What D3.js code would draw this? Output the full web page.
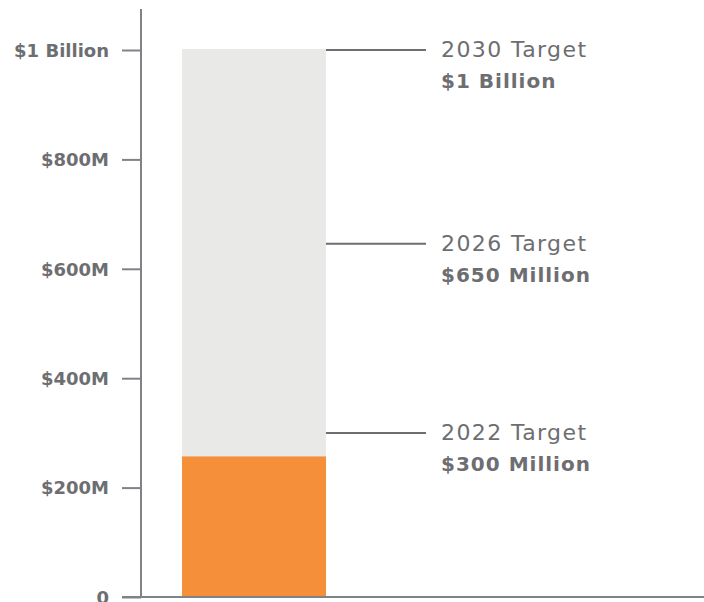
<!DOCTYPE html>
<html>
<head>
<meta charset="utf-8">
<script src="https://d3js.org/d3.v7.min.js"></script>
<style>
  body { margin: 0; background: #fff; }
  svg { display: block; }
  svg text { font-family: "DejaVu Sans", "Noto Sans", sans-serif; }
</style>
</head>
<body>
<div id="chart"></div>
<script>
// data (millions of dollars)
const tickValues = [0, 200, 400, 600, 800, 1000];
const tickLabels = ['0', '$200M', '$400M', '$600M', '$800M', '$1 Billion'];
const goalValue = 1000;
const raisedValue = 257;
const targetValues = [1000, 646, 300];
const targetYears = ['2030 Target', '2026 Target', '2022 Target'];
const targetAmounts = ['$1 Billion', '$650 Million', '$300 Million'];

const width = 704, height = 602;
const axisX = 141, baseY = 597;
const textColor = '#6d6e71', axisColor = '#808285';

const svg = d3.select('#chart').append('svg')
    .attr('width', width)
    .attr('height', height);

const y = d3.scaleLinear()
    .domain([0, 1000])
    .range([baseY, 50]);

// background (goal) bar and progress bar
const barX = 182, barW = 144;
svg.append('rect')
    .attr('x', barX).attr('width', barW)
    .attr('y', y(goalValue) - 1).attr('height', baseY - y(goalValue) + 1)
    .attr('fill', '#e9e9e7');

svg.append('rect')
    .attr('x', barX).attr('width', barW)
    .attr('y', y(raisedValue)).attr('height', baseY - y(raisedValue))
    .attr('fill', '#f58f39');

// y axis
const axis = svg.append('g')
    .attr('transform', `translate(${axisX},0)`)
    .call(d3.axisLeft(y)
        .tickValues(tickValues)
        .tickFormat((d, i) => tickLabels[i])
        .tickSize(19)
        .tickPadding(13));
axis.attr('font-family', null).attr('font-size', null);
axis.select('.domain').remove();
axis.selectAll('.tick line')
    .attr('stroke', axisColor)
    .attr('stroke-width', 2);
axis.selectAll('.tick text')
    .attr('fill', textColor)
    .style('font-size', '18px')
    .attr('font-weight', 700)
    .attr('dy', '0.35em');

svg.append('line')
    .attr('x1', axisX).attr('x2', axisX)
    .attr('y1', 9).attr('y2', baseY)
    .attr('stroke', axisColor).attr('stroke-width', 2);

svg.append('line')
    .attr('x1', 122).attr('x2', width)
    .attr('y1', baseY).attr('y2', baseY)
    .attr('stroke', axisColor).attr('stroke-width', 2);

// target leader lines and labels
const targets = svg.selectAll('.target')
    .data(targetValues)
    .enter()
    .append('g')
    .attr('class', 'target')
    .attr('transform', d => `translate(0,${y(d)})`);

targets.append('line')
    .attr('x1', barX + barW).attr('x2', 426)
    .attr('stroke', textColor).attr('stroke-width', 2);

targets.append('text')
    .attr('x', 441).attr('y', 7)
    .attr('fill', textColor)
    .style('font-size', '22px')
    .attr('letter-spacing', 1.4)
    .text((d, i) => targetYears[i]);

targets.append('text')
    .attr('x', 441).attr('y', 38)
    .attr('fill', textColor)
    .style('font-size', '20px')
    .attr('letter-spacing', 1)
    .attr('font-weight', 700)
    .text((d, i) => targetAmounts[i]);
</script>
</body>
</html>
